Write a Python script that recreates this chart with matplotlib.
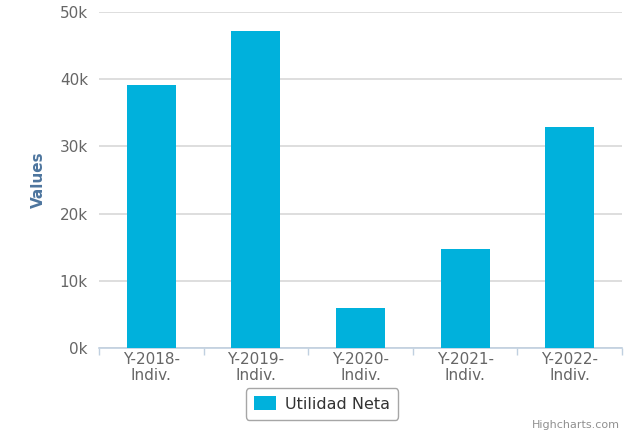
import numpy as np
import matplotlib.pyplot as plt
from matplotlib.patches import Patch

categories = ["Y-2018-\nIndiv.", "Y-2019-\nIndiv.", "Y-2020-\nIndiv.", "Y-2021-\nIndiv.", "Y-2022-\nIndiv."]
utilidad_neta = [39100, 47200, 5950, 14700, 32900]
yticks = [0, 10000, 20000, 30000, 40000, 50000]
ytick_labels = ["0k", "10k", "20k", "30k", "40k", "50k"]

bar_color = "#00b1dc"
plt.rcParams["font.family"] = ["DejaVu Sans"]

fig = plt.figure(figsize=(6.32, 4.44), dpi=100)
ax = fig.add_axes([99 / 632, 1 - 348 / 444, (622 - 99) / 632, (348 - 12) / 444])

x = np.arange(len(categories))
ax.bar(x, utilidad_neta, width=0.47, color=bar_color, zorder=3)

ax.set_xlim(-0.5, len(categories) - 0.5)
ax.set_ylim(0, 50000)
ax.set_yticks(yticks)
ax.set_yticklabels(ytick_labels)
ax.set_xticks(x)
ax.set_xticklabels(categories, linespacing=1.05)
ax.set_xticks(np.arange(len(categories) + 1) - 0.5, minor=True)

ax.grid(axis="y", color="#d8d8d8", linewidth=1.2, zorder=0)
for s in ["top", "right", "left"]:
    ax.spines[s].set_visible(False)
ax.spines["bottom"].set_color("#c0d0e0")
ax.spines["bottom"].set_linewidth(1.2)

ax.tick_params(axis="y", length=0, pad=8, labelsize=11, labelcolor="#666666")
ax.tick_params(axis="x", which="major", length=0, pad=3, labelsize=11, labelcolor="#666666")
ax.tick_params(axis="x", which="minor", length=5, color="#c0d0e0", width=1)

ax.set_ylabel("Values", fontsize=11, fontweight="bold", color="#4d759e", labelpad=10)

leg = fig.legend(handles=[Patch(facecolor=bar_color, label="Utilidad Neta")],
                 loc="center", bbox_to_anchor=(322 / 632, 1 - 404 / 444),
                 frameon=True, fontsize=11.5, handlelength=1.4, handleheight=0.9,
                 borderpad=0.5, handletextpad=0.6, fancybox=True)
leg.get_frame().set_edgecolor("#909090")
leg.get_frame().set_linewidth(1.0)
for t in leg.get_texts():
    t.set_color("#333333")

fig.text(620 / 632, 1 - 425 / 444, "Highcharts.com", ha="right", va="center",
         fontsize=8, color="#909090")

fig.savefig("out.png", dpi=100)
